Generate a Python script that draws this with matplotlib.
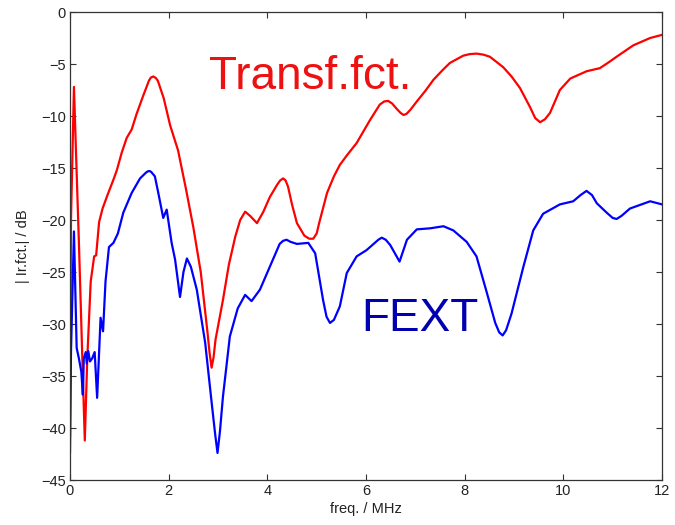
import matplotlib
matplotlib.use("Agg")
import matplotlib.pyplot as plt

plt.rcParams['font.family'] = ['Liberation Sans', 'DejaVu Sans']

# Transfer function magnitude (dB) vs. frequency (MHz)
tf_freq = [0.00, 0.02, 0.08, 0.115, 0.18, 0.25, 0.30, 0.35, 0.42, 0.49, 0.53,
           0.59, 0.66, 0.76, 0.89, 0.95, 1.05, 1.15, 1.25, 1.35, 1.48, 1.60,
           1.64, 1.69, 1.74, 1.78, 1.90, 2.03, 2.19, 2.35, 2.50, 2.65, 2.78,
           2.83, 2.87, 2.91, 2.95, 3.10, 3.22, 3.35, 3.45, 3.55, 3.65, 3.79,
           3.92, 4.05, 4.20, 4.26, 4.32, 4.37, 4.42, 4.50, 4.60, 4.75, 4.85,
           4.93, 5.00, 5.05, 5.21, 5.35, 5.47, 5.61, 5.81, 6.08, 6.28, 6.37,
           6.45, 6.53, 6.62, 6.70, 6.76, 6.82, 6.90, 7.03, 7.20, 7.37, 7.55,
           7.70, 7.97, 8.10, 8.24, 8.38, 8.51, 8.78, 8.95, 9.12, 9.32, 9.43,
           9.53, 9.63, 9.73, 9.83, 9.93, 10.14, 10.47, 10.74, 10.90, 11.08,
           11.42, 11.76, 12.00]
tf_db = [-40.7, -20.0, -7.2, -12.5, -22.1, -33.3, -41.2, -33.3, -25.9, -23.5, -23.4,
         -20.2, -18.9, -17.6, -16.0, -15.2, -13.5, -12.1, -11.3, -9.8, -8.1, -6.6,
         -6.3, -6.2, -6.35, -6.6, -8.3, -10.9, -13.3, -17.0, -20.7, -25.0, -30.5,
         -32.8, -34.2, -33.2, -31.5, -27.7, -24.3, -21.6, -20.0, -19.2, -19.6, -20.3,
         -19.2, -17.8, -16.6, -16.2, -16.0, -16.2, -16.8, -18.5, -20.3, -21.5, -21.8,
         -21.8, -21.3, -20.3, -17.4, -15.8, -14.7, -13.8, -12.6, -10.4, -8.9, -8.6,
         -8.55, -8.8, -9.3, -9.7, -9.9, -9.8, -9.4, -8.6, -7.6, -6.5, -5.6,
         -4.9, -4.2, -4.05, -4.0, -4.1, -4.3, -5.3, -6.2, -7.3, -9.1, -10.2,
         -10.6, -10.3, -9.7, -8.6, -7.5, -6.4, -5.7, -5.4, -4.9, -4.3,
         -3.2, -2.5, -2.2]

# Far-end crosstalk magnitude (dB) vs. frequency (MHz)
fext_freq = [0.00, 0.02, 0.08, 0.135, 0.18, 0.23, 0.26, 0.28, 0.32, 0.34, 0.37,
             0.405, 0.45, 0.50, 0.55, 0.62, 0.67, 0.72, 0.79, 0.88, 0.97, 1.08,
             1.25, 1.42, 1.55, 1.59, 1.62, 1.65, 1.72, 1.79, 1.89, 1.96, 2.06,
             2.13, 2.23, 2.30, 2.37, 2.45, 2.57, 2.74, 2.87, 2.94, 2.99, 3.04,
             3.10, 3.24, 3.40, 3.55, 3.68, 3.85, 4.05, 4.25, 4.32, 4.39, 4.47,
             4.60, 4.83, 4.97, 5.13, 5.20, 5.27, 5.35, 5.47, 5.61, 5.81, 6.01,
             6.25, 6.32, 6.40, 6.49, 6.68, 6.83, 7.03, 7.30, 7.57, 7.77, 8.04,
             8.24, 8.45, 8.62, 8.70, 8.77, 8.84, 8.95, 9.19, 9.39, 9.59, 9.93,
             10.20, 10.35, 10.47, 10.58, 10.68, 10.88, 11.00, 11.08, 11.18, 11.35,
             11.76, 12.00]
fext_db = [-42.3, -32.7, -21.1, -32.3, -33.3, -34.6, -36.8, -33.3, -32.7, -33.8, -32.6,
           -33.6, -33.3, -32.7, -37.1, -29.4, -30.7, -25.9, -22.6, -22.2, -21.3, -19.3,
           -17.4, -16.0, -15.4, -15.3, -15.3, -15.4, -15.8, -17.4, -19.8, -19.0, -22.2,
           -23.8, -27.4, -25.0, -23.7, -24.5, -26.7, -31.8, -37.5, -40.5, -42.4, -40.3,
           -37.0, -31.2, -28.5, -27.2, -27.8, -26.7, -24.5, -22.3, -22.0, -21.9, -22.1,
           -22.3, -22.2, -23.2, -27.7, -29.3, -29.9, -29.6, -28.3, -25.1, -23.5, -22.9,
           -21.9, -21.7, -21.9, -22.4, -24.0, -21.9, -20.9, -20.8, -20.6, -21.0, -22.1,
           -23.5, -27.0, -29.9, -30.8, -31.1, -30.6, -29.0, -24.5, -21.0, -19.4, -18.5,
           -18.2, -17.6, -17.2, -17.6, -18.4, -19.3, -19.8, -19.9, -19.6, -18.9,
           -18.2, -18.5]

x_ticks = [0, 2, 4, 6, 8, 10, 12]
y_ticks = [0, -5, -10, -15, -20, -25, -30, -35, -40, -45]

fig = plt.figure(figsize=(6.75, 5.25), dpi=100)
ax = fig.add_axes([70 / 675, 1 - 480 / 525, 592 / 675, 468 / 525])

ax.plot(tf_freq, tf_db, color='#ff0000', lw=1.6, solid_joinstyle='round')
ax.plot(fext_freq, fext_db, color='#0000ff', lw=1.6, solid_joinstyle='round')

ax.set_xlim(0, 12)
ax.set_ylim(-45, 0)
ax.set_xticks(x_ticks)
ax.set_yticks(y_ticks)
ax.set_yticklabels([str(v).replace('-', '\u2212') for v in y_ticks])
ax.tick_params(direction='in', top=True, right=True, length=4, width=0.8,
               labelsize=10.5, color='#333333', labelcolor='#222222', pad=3)
for sp in ax.spines.values():
    sp.set_color('#333333')
    sp.set_linewidth(0.9)

ax.set_xlabel('freq. / MHz', fontsize=10.5, color='#222222', labelpad=3)
ax.set_ylabel('| Ir.fct.| / dB', fontsize=10.5, color='#222222', labelpad=8)

ax.text(4.87, -7.4, 'Transf.fct.', color='#ee1111', fontsize=33,
        ha='center', va='baseline')
ax.text(7.1, -30.7, 'FEXT', color='#0000b0', fontsize=33,
        ha='center', va='baseline')

fig.savefig('out.png', dpi=100)
